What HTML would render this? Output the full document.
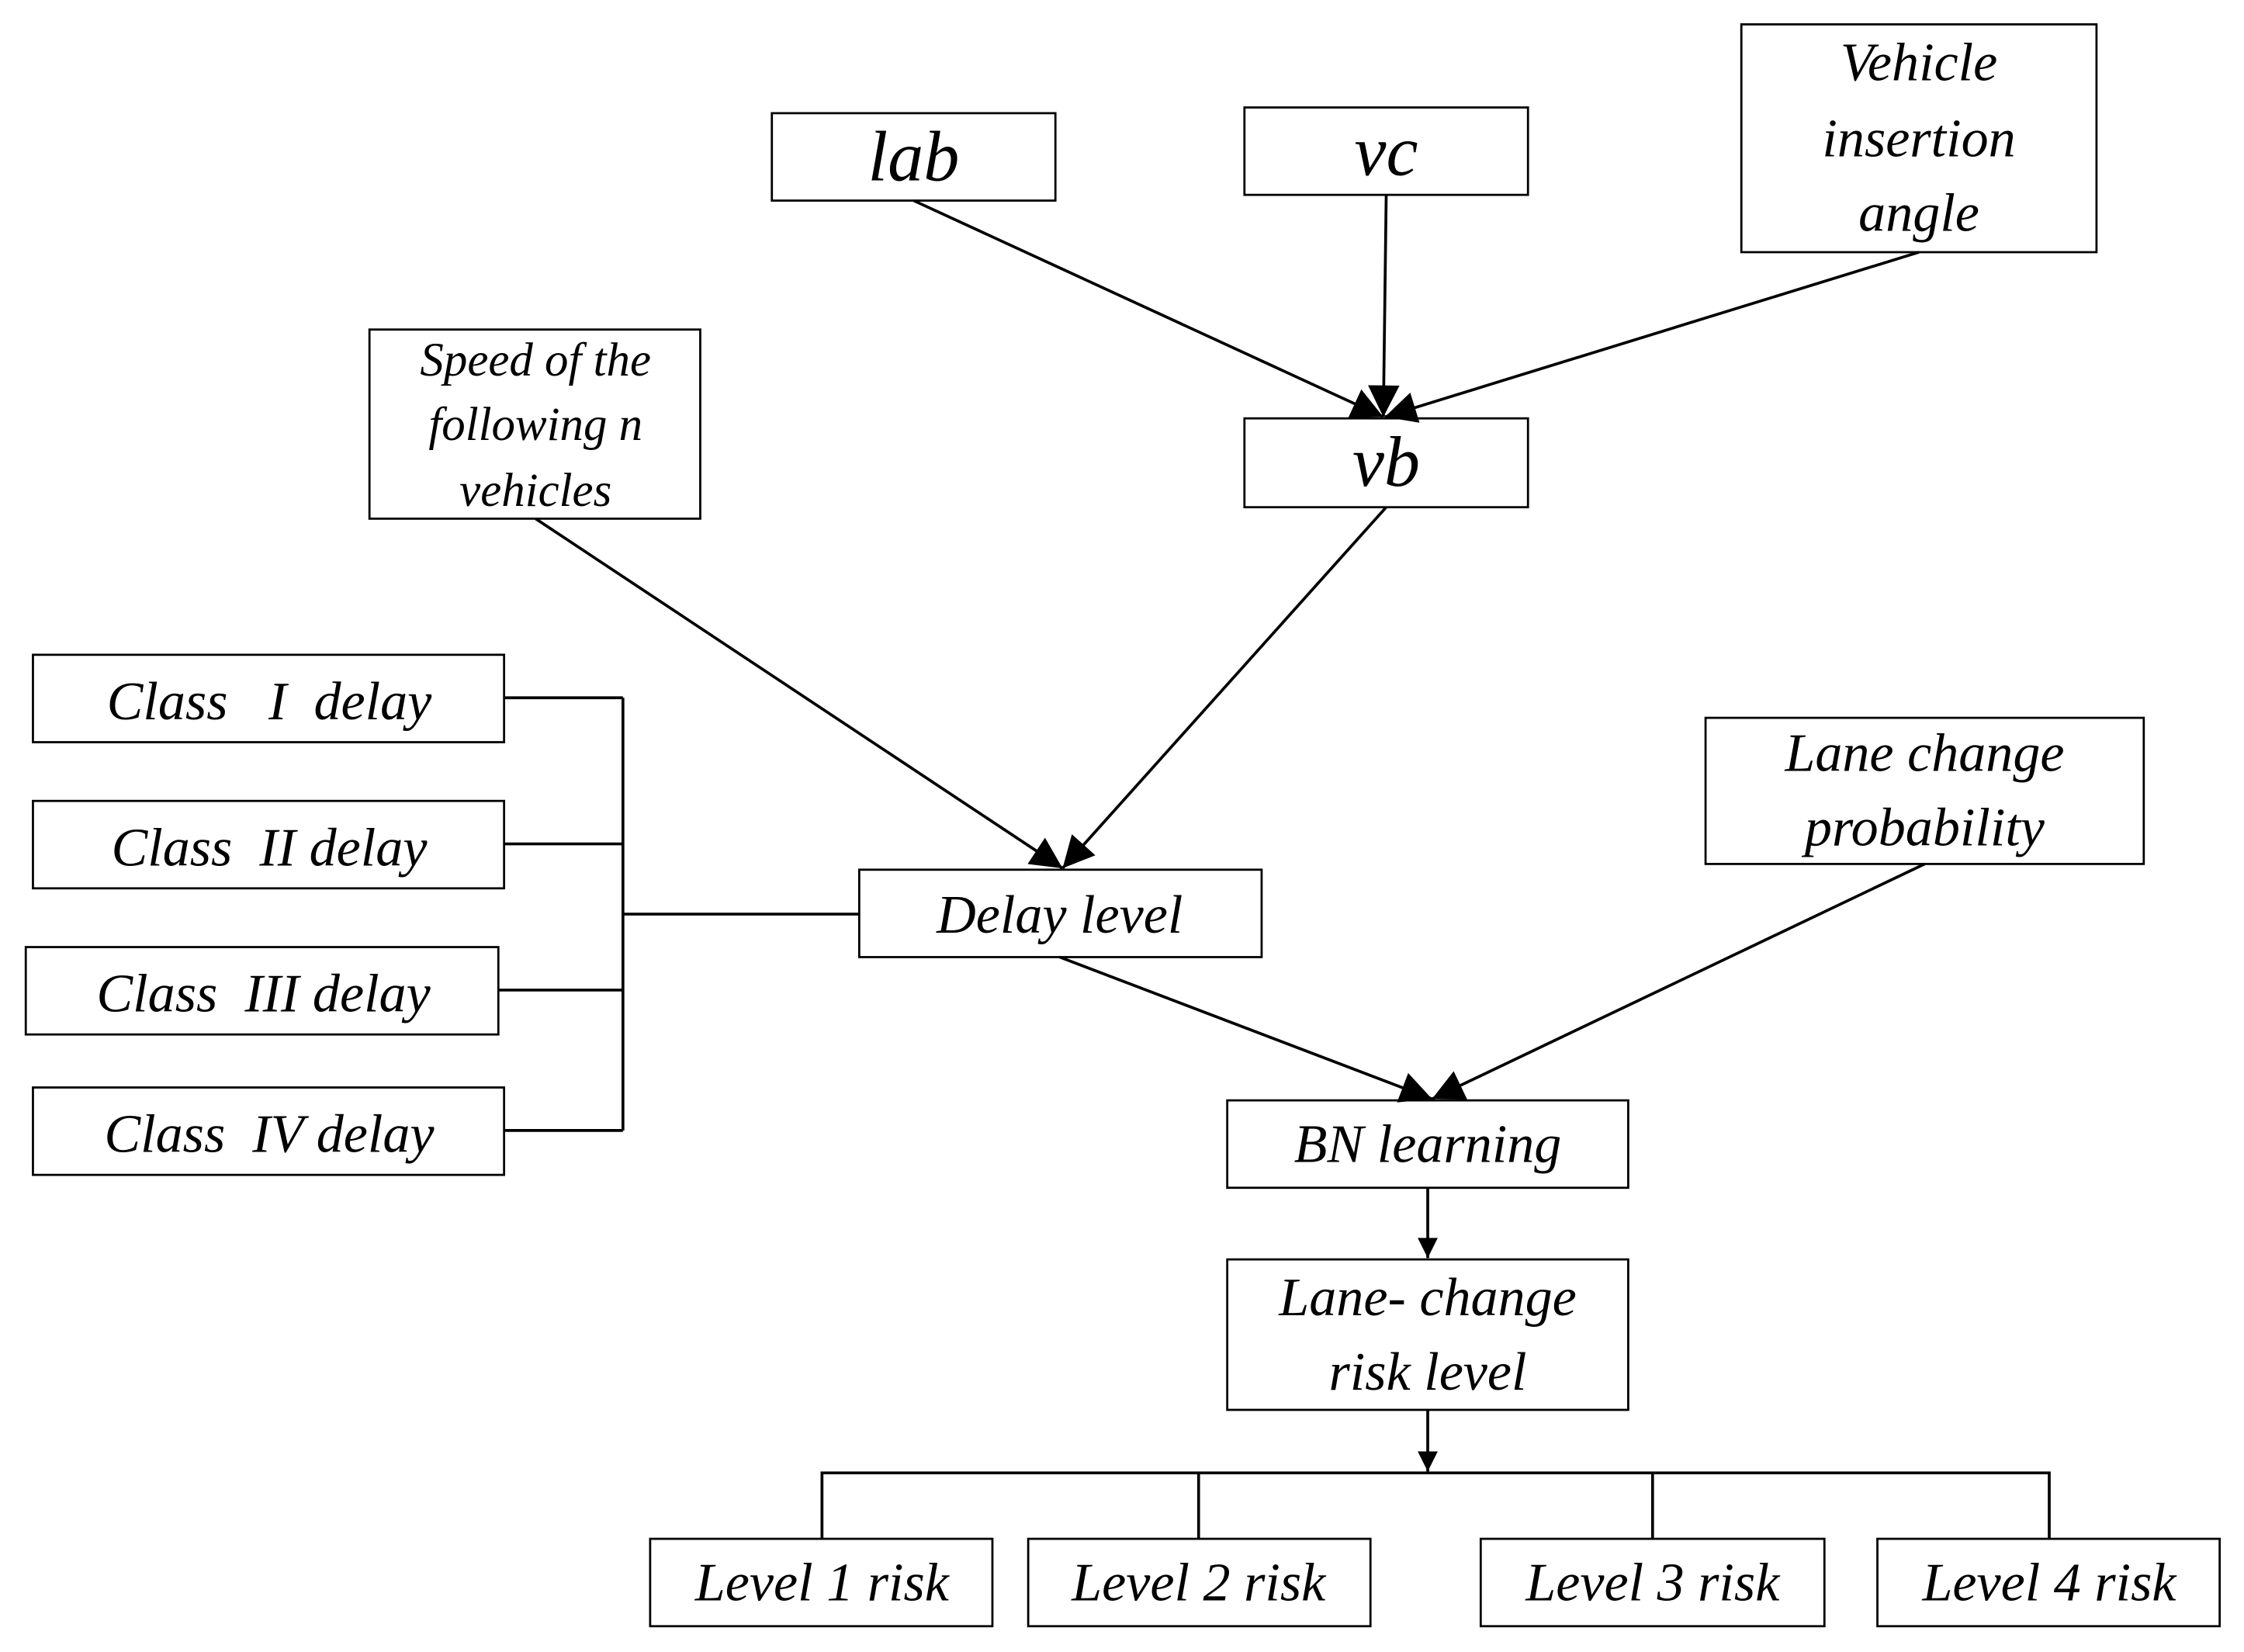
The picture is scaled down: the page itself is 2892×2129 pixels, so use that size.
<!DOCTYPE html>
<html><head><meta charset="utf-8"><style>html,body{margin:0;padding:0;background:#fff}svg{display:block}</style></head>
<body>
<svg width="2892" height="2129" viewBox="0 0 1567 1153" preserveAspectRatio="none" xmlns="http://www.w3.org/2000/svg">
<defs>
<marker id="b" viewBox="0 0 10 10" refX="10" refY="5" markerWidth="24" markerHeight="22" orient="auto" markerUnits="userSpaceOnUse"><path d="M0,0 L10,5 L0,10 z" fill="#000"/></marker>
<marker id="c" viewBox="0 0 10 10" refX="10" refY="5" markerWidth="18" markerHeight="14" orient="auto" markerUnits="userSpaceOnUse"><path d="M0,0 L10,5 L0,10 z" fill="#000"/></marker></defs>
<g fill="#fff" stroke="#000" stroke-width="1.5">
<rect x="539" y="79" width="198" height="61"/>
<rect x="869" y="75" width="198" height="61"/>
<rect x="1216" y="17" width="248" height="159"/>
<rect x="258" y="230" width="231" height="132"/>
<rect x="869" y="292" width="198" height="62"/>
<rect x="23" y="457" width="329" height="61"/>
<rect x="23" y="559" width="329" height="61"/>
<rect x="18" y="661" width="330" height="61"/>
<rect x="23" y="759" width="329" height="61"/>
<rect x="600" y="607" width="281" height="61"/>
<rect x="1191" y="501" width="306" height="102"/>
<rect x="857" y="768" width="280" height="61"/>
<rect x="857" y="879" width="280" height="105"/>
<rect x="454" y="1074" width="239" height="61"/>
<rect x="718" y="1074" width="239" height="61"/>
<rect x="1034" y="1074" width="240" height="61"/>
<rect x="1311" y="1074" width="239" height="61"/>
</g>
<g stroke="#000" stroke-width="2" fill="none">
<line x1="638" y1="140" x2="966" y2="291" marker-end="url(#b)"/>
<line x1="968" y1="136" x2="966" y2="291" marker-end="url(#b)"/>
<line x1="1340" y1="176" x2="967" y2="291" marker-end="url(#b)"/>
<line x1="374" y1="362" x2="742" y2="606" marker-end="url(#b)"/>
<line x1="968" y1="354" x2="742" y2="606" marker-end="url(#b)"/>
<line x1="740" y1="668" x2="1000" y2="767" marker-end="url(#b)"/>
<line x1="1344" y1="603" x2="1000" y2="767" marker-end="url(#b)"/>
<line x1="997" y1="829" x2="997" y2="878" marker-end="url(#c)"/>
<line x1="997" y1="984" x2="997" y2="1027" marker-end="url(#c)"/>
<polyline points="574,1074 574,1028 1431,1028 1431,1074"/>
<line x1="837" y1="1028" x2="837" y2="1074"/>
<line x1="1154" y1="1028" x2="1154" y2="1074"/>
<line x1="435" y1="487" x2="435" y2="789"/>
<line x1="352" y1="487" x2="435" y2="487"/>
<line x1="352" y1="589" x2="435" y2="589"/>
<line x1="348" y1="691" x2="435" y2="691"/>
<line x1="352" y1="789" x2="435" y2="789"/>
<line x1="435" y1="638" x2="600" y2="638"/>
</g>
<g font-family="'Liberation Serif',serif" font-style="italic" text-anchor="middle" fill="#000">
<text x="638" y="126" font-size="50">lab</text>
<text x="968" y="122" font-size="50">vc</text>
<text x="968" y="339" font-size="50">vb</text>
<text x="1340" y="56" font-size="38">Vehicle</text>
<text x="1340" y="109" font-size="38">insertion</text>
<text x="1340" y="161" font-size="38">angle</text>
<text x="374" y="262" font-size="33">Speed of the</text>
<text x="374" y="307" font-size="33">following n</text>
<text x="374" y="353" font-size="33">vehicles</text>
<text x="188" y="502" font-size="38">Class&#160;&#160; I&#160; delay</text>
<text x="188" y="604" font-size="38">Class&#160; II delay</text>
<text x="184" y="706" font-size="38">Class&#160; III delay</text>
<text x="188" y="804" font-size="38">Class&#160; IV delay</text>
<text x="740" y="651" font-size="38">Delay level</text>
<text x="1344" y="538" font-size="38">Lane change</text>
<text x="1344" y="590" font-size="38">probability</text>
<text x="997" y="811" font-size="38">BN learning</text>
<text x="997" y="918" font-size="38">Lane- change</text>
<text x="997" y="970" font-size="38">risk level</text>
<text x="574" y="1117" font-size="38">Level 1 risk</text>
<text x="837" y="1117" font-size="38">Level 2 risk</text>
<text x="1154" y="1117" font-size="38">Level 3 risk</text>
<text x="1431" y="1117" font-size="38">Level 4 risk</text>
</g>
</svg>
</body></html>
